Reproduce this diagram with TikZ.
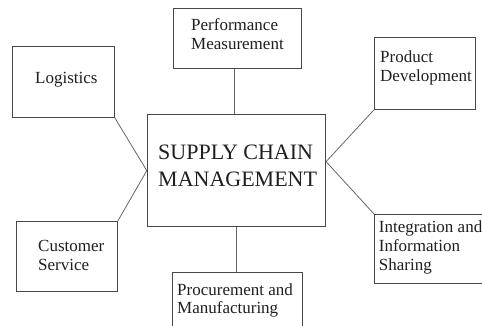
\documentclass[tikz,border=0pt]{standalone}
\usepackage{fontspec}
\setmainfont{Liberation Serif}
\begin{document}
\begin{tikzpicture}[x=1pt,y=-1pt,
  box/.style={draw=black!72, line width=0.8pt, fill=white, inner sep=0pt, anchor=north west},
  link/.style={draw=black!60, line width=0.8pt},
  txt/.style={inner sep=0pt, anchor=base west, align=flush left, text width=140pt,
    text=black!88, font=\fontsize{17}{18.8}\selectfont},
  bigtxt/.style={txt, text width=180pt, font=\fontsize{22}{27}\selectfont}]
  \useasboundingbox (0,0) rectangle (482,326);
  \clip (0,0) rectangle (482,326);

  % boxes
  \node[box, minimum width=178.5pt, minimum height=111.5pt] (scm)  at (146.8,114.5) {};
  \node[box, minimum width=127.5pt, minimum height=60.5pt]  (perf) at (173,8) {};
  \node[box, minimum width=101.7pt, minimum height=71.3pt]  (logi) at (12.3,45.7) {};
  \node[box, minimum width=100.5pt, minimum height=72pt]    (prod) at (374,37) {};
  \node[box, minimum width=101pt,   minimum height=70pt]    (cust) at (16,221) {};
  \node[box, minimum width=121pt,   minimum height=69pt]    (intg) at (374,214) {};
  \node[box, minimum width=129.4pt, minimum height=68pt]    (proc) at (172.3,272.3) {};

  % connectors
  \coordinate (scmR) at ([yshift=9pt]scm.east);
  \draw[link] ([xshift=-2.5pt]perf.south) -- ([xshift=-2.5pt]perf.south |- scm.north);
  \draw[link] (scm.south) -- (scm.south |- proc.north);
  \draw[link] (logi.south east) -- (scm.west);
  \draw[link] (cust.north east) -- (scm.west);
  \draw[link] (prod.south west) -- (scmR);
  \draw[link] (intg.north west) -- (scmR);

  % labels
  \node[bigtxt] (scmT)  at (158,159.3) {SUPPLY CHAIN\\MANAGEMENT};
  \node[txt]    (perfT) at (191,30.6)  {Performance\\Measurement};
  \node[txt]    (logiT) at (35,83.3)   {Logistics};
  \node[txt]    (prodT) at (380,63)    {Product\\Development};
  \node[txt]    (custT) at (38,251.3)  {Customer\\Service};
  \node[txt]    (intgT) at (378.7,232.5) {Integration and\\Information\\Sharing};
  \node[txt]    (procT) at (177,295)   {Procurement and\\Manufacturing};
\end{tikzpicture}
\end{document}
